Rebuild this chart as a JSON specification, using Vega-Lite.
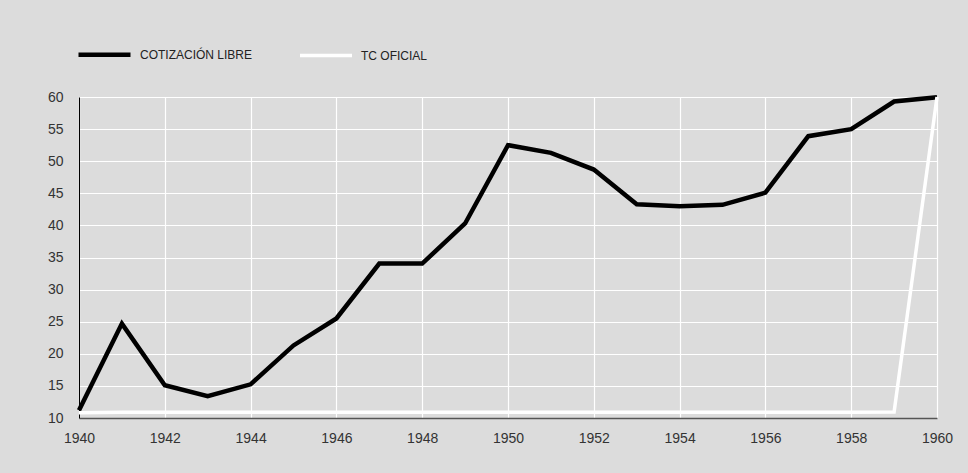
{
  "$schema": "https://vega.github.io/schema/vega-lite/v6.json",
  "width": 858,
  "height": 321,
  "autosize": {"type": "none"},
  "padding": {"left": 79, "top": 97, "right": 31, "bottom": 55},
  "background": "#dcdcdc",
  "config": {
    "font": "Liberation Sans",
    "view": {"stroke": null, "fill": "#dcdcdc"},
    "axis": {"labelFont": "Liberation Sans", "labelColor": "#333333", "labelFontSize": 14, "ticks": false, "gridColor": "#ffffff", "gridWidth": 1.2, "gridOpacity": 1, "title": null}
  },
  "data": {
    "values": [
      {"year": 1940, "serie": "COTIZACIÓN LIBRE", "value": 11.2},
      {"year": 1941, "serie": "COTIZACIÓN LIBRE", "value": 24.7},
      {"year": 1942, "serie": "COTIZACIÓN LIBRE", "value": 15.1},
      {"year": 1943, "serie": "COTIZACIÓN LIBRE", "value": 13.4},
      {"year": 1944, "serie": "COTIZACIÓN LIBRE", "value": 15.25},
      {"year": 1945, "serie": "COTIZACIÓN LIBRE", "value": 21.3},
      {"year": 1946, "serie": "COTIZACIÓN LIBRE", "value": 25.5},
      {"year": 1947, "serie": "COTIZACIÓN LIBRE", "value": 34.05},
      {"year": 1948, "serie": "COTIZACIÓN LIBRE", "value": 34.05},
      {"year": 1949, "serie": "COTIZACIÓN LIBRE", "value": 40.3},
      {"year": 1950, "serie": "COTIZACIÓN LIBRE", "value": 52.5},
      {"year": 1951, "serie": "COTIZACIÓN LIBRE", "value": 51.3},
      {"year": 1952, "serie": "COTIZACIÓN LIBRE", "value": 48.7},
      {"year": 1953, "serie": "COTIZACIÓN LIBRE", "value": 43.3},
      {"year": 1954, "serie": "COTIZACIÓN LIBRE", "value": 43.0},
      {"year": 1955, "serie": "COTIZACIÓN LIBRE", "value": 43.2},
      {"year": 1956, "serie": "COTIZACIÓN LIBRE", "value": 45.1},
      {"year": 1957, "serie": "COTIZACIÓN LIBRE", "value": 53.9},
      {"year": 1958, "serie": "COTIZACIÓN LIBRE", "value": 55.0},
      {"year": 1959, "serie": "COTIZACIÓN LIBRE", "value": 59.3},
      {"year": 1960, "serie": "COTIZACIÓN LIBRE", "value": 59.95},
      {"year": 1940, "serie": "TC OFICIAL", "value": 10.8},
      {"year": 1941, "serie": "TC OFICIAL", "value": 10.9},
      {"year": 1942, "serie": "TC OFICIAL", "value": 10.9},
      {"year": 1943, "serie": "TC OFICIAL", "value": 10.9},
      {"year": 1944, "serie": "TC OFICIAL", "value": 10.9},
      {"year": 1945, "serie": "TC OFICIAL", "value": 10.9},
      {"year": 1946, "serie": "TC OFICIAL", "value": 10.9},
      {"year": 1947, "serie": "TC OFICIAL", "value": 10.9},
      {"year": 1948, "serie": "TC OFICIAL", "value": 10.9},
      {"year": 1949, "serie": "TC OFICIAL", "value": 10.9},
      {"year": 1950, "serie": "TC OFICIAL", "value": 10.9},
      {"year": 1951, "serie": "TC OFICIAL", "value": 10.9},
      {"year": 1952, "serie": "TC OFICIAL", "value": 10.9},
      {"year": 1953, "serie": "TC OFICIAL", "value": 10.9},
      {"year": 1954, "serie": "TC OFICIAL", "value": 10.9},
      {"year": 1955, "serie": "TC OFICIAL", "value": 10.9},
      {"year": 1956, "serie": "TC OFICIAL", "value": 10.9},
      {"year": 1957, "serie": "TC OFICIAL", "value": 10.9},
      {"year": 1958, "serie": "TC OFICIAL", "value": 10.9},
      {"year": 1959, "serie": "TC OFICIAL", "value": 10.95},
      {"year": 1960, "serie": "TC OFICIAL", "value": 60}
    ]
  },
  "mark": {"type": "line", "strokeJoin": "miter", "strokeCap": "butt", "clip": false},
  "encoding": {
    "x": {
      "field": "year", "type": "quantitative",
      "scale": {"domain": [1940, 1960], "nice": false, "zero": false},
      "axis": {"values": [1940, 1942, 1944, 1946, 1948, 1950, 1952, 1954, 1956, 1958, 1960], "format": "d", "domainColor": "#555555", "domainWidth": 1.5, "labelPadding": 13, "labelFlush": false}
    },
    "y": {
      "field": "value", "type": "quantitative",
      "scale": {"domain": [10, 60], "nice": false, "zero": false},
      "axis": {"values": [10, 15, 20, 25, 30, 35, 40, 45, 50, 55, 60], "domainColor": "#000000", "domainWidth": 1, "labelPadding": 16}
    },
    "color": {
      "field": "serie", "type": "nominal",
      "scale": {"domain": ["COTIZACIÓN LIBRE", "TC OFICIAL"], "range": ["#000000", "#ffffff"]},
      "legend": {
        "title": null, "orient": "none", "direction": "horizontal",
        "legendX": -3, "legendY": -71,
        "symbolType": "stroke", "symbolSize": 2704, "symbolStrokeWidth": 4,
        "labelFont": "Liberation Sans", "labelFontSize": 12, "labelColor": "#222222",
        "labelOffset": 7, "columnPadding": 40, "labelLimit": 300
      }
    },
    "strokeWidth": {
      "field": "serie", "type": "nominal",
      "scale": {"domain": ["COTIZACIÓN LIBRE", "TC OFICIAL"], "range": [4.5, 3.5]},
      "legend": null
    }
  }
}
